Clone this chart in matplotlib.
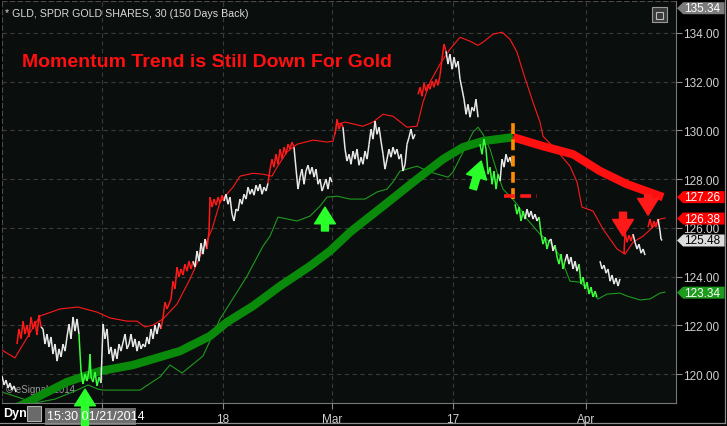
import matplotlib
matplotlib.use("Agg")
import matplotlib.pyplot as plt
import numpy as np
from matplotlib.collections import LineCollection
from matplotlib.lines import Line2D
from matplotlib.patches import Polygon, Rectangle

plt.rcParams["font.family"] = ["Liberation Sans", "DejaVu Sans"]

# x unit: trading days since the left edge of the chart (15:30, 01/21/2014)
START_OFFSET = 0.74
X_MAX = 55.7
Y_MIN, Y_MAX = 118.81, 135.31

session_index = [9, 19, 28, 38, 49]          # Feb 3, Feb 18, Mar 3, Mar 17, Apr 1
session_labels = ["", "18", "Mar", "17", "Apr"]
price_ticks = [120, 122, 124, 126, 128, 130, 132, 134]

# 30-minute GLD price path, with colour runs
price_day = [
    0.00, 0.17, 0.33, 0.50, 0.66, 0.83, 0.99, 1.16,
    1.24, 1.40, 1.57, 1.74, 1.90, 2.07, 2.23, 2.40, 2.56, 2.73, 2.89, 3.06, 3.22,
    3.39, 3.55, 3.72, 3.88, 4.05, 4.21, 4.38, 4.55, 4.71, 4.88, 5.04, 5.21, 5.37, 5.54, 5.70, 5.87, 6.03, 6.20, 6.36,
    6.53, 6.69, 6.86, 7.02, 7.19, 7.27, 7.36, 7.52, 7.69, 7.85, 8.02, 8.18,
    8.35, 8.51, 8.68, 8.84, 9.01, 9.17, 9.34, 9.50, 9.67, 9.83, 10.17, 10.33, 10.50, 10.66, 10.83,
    10.99, 11.16, 11.32, 11.49, 11.65, 11.82, 11.98, 12.15, 12.31, 12.48, 12.64, 12.81, 12.98, 13.14,
    13.31, 13.47, 13.64, 13.80, 13.97, 14.13, 14.30, 14.46, 14.63, 14.79, 14.96, 15.12, 15.29, 15.45, 15.62, 15.79,
    15.95, 16.12, 16.28, 16.45, 16.61, 16.78, 16.94,
    17.11, 17.19, 17.36, 17.52, 17.69, 17.85, 18.02, 18.18, 18.35,
    18.51, 18.68, 18.84, 19.01, 19.17, 19.34, 19.50, 19.67, 19.83, 20.00, 20.17, 20.33, 20.50, 20.66, 20.83,
    20.99, 21.16, 21.32, 21.49, 21.65, 21.82, 21.98,
    22.15, 22.31, 22.48, 22.64, 22.81, 22.98, 23.14, 23.31, 23.47, 23.64, 23.80, 23.97, 24.13,
    24.30, 24.46, 24.63, 24.79, 24.96, 25.12, 25.29, 25.45, 25.62, 25.79, 25.95, 26.12, 26.28, 26.45, 26.61,
    26.78, 26.94, 27.11, 27.27,
    27.52, 27.69, 27.85, 28.02, 28.18,
    28.35, 28.51, 28.68, 28.84, 29.01, 29.17, 29.34, 29.50, 29.67, 29.83, 30.00, 30.17, 30.33, 30.50, 30.66,
    30.83, 30.99, 31.16, 31.32, 31.49, 31.65, 31.82, 31.98, 32.15, 32.31, 32.48, 32.64, 32.81, 32.98, 33.14,
    33.31, 33.47, 33.64, 33.80, 33.97, 34.13,
    34.38, 34.55, 34.71, 34.88, 35.04, 35.21, 35.37, 35.54, 35.70, 35.87, 36.03, 36.20, 36.36, 36.53, 36.69,
    36.86, 37.02, 37.19, 37.36, 37.52, 37.69, 37.85, 38.02, 38.18, 38.35, 38.51, 38.68, 38.84, 39.01, 39.17, 39.34,
    39.50, 39.67, 39.83, 40.00, 40.17, 40.33, 40.50, 40.66, 40.83, 40.99, 41.16,
    41.32, 41.49, 41.65, 41.82, 41.98, 42.15,
    42.40, 42.56, 42.73, 42.89, 43.06, 43.22,
    43.39, 43.55, 43.72, 43.88, 44.05, 44.21, 44.38,
    44.55, 44.71, 44.88, 45.04, 45.21,
    45.37, 45.54, 45.70,
    45.87, 46.03, 46.20, 46.36, 46.53,
    46.69, 46.86, 47.02, 47.19, 47.36, 47.52, 47.69,
    47.85, 48.02, 48.18, 48.35, 48.51, 48.68, 48.84, 49.01, 49.17,
    49.42, 49.59, 49.75, 49.92, 50.08, 50.25, 50.41, 50.58, 50.74, 50.91, 51.07,
    51.40, 51.49, 51.65, 51.82, 51.98, 52.15,
    52.31, 52.48, 52.64, 52.81, 52.98, 53.14,
    53.39, 53.55, 53.72, 53.88, 54.05, 54.21,
    54.38, 54.46, 54.55,
]
price_val = [
    119.92, 119.55, 119.75, 119.43, 119.63, 119.34, 119.51, 119.26,
    121.23, 121.85, 121.44, 122.17, 121.64, 122.01, 121.52, 122.34, 121.85, 122.17, 121.60, 122.42, 121.93,
    121.85, 121.23, 121.64, 121.11, 121.52, 120.82, 121.23, 120.53, 121.03, 120.70, 121.23, 120.94, 121.52, 122.05,
    121.44, 122.34, 121.76, 122.26, 121.64,
    120.12, 119.59, 120.00, 119.71, 120.12, 120.82, 119.88, 119.67, 120.08, 119.51, 119.88, 119.63,
    122.05, 121.44, 121.85, 120.82, 121.11, 120.53, 121.03, 120.62, 121.23, 120.94, 121.64, 121.03, 121.23, 121.64,
    121.11, 121.44, 120.94, 121.35, 121.03, 121.23, 121.11, 121.52, 121.23, 121.85, 121.44, 122.01, 121.64, 122.09,
    121.85,
    122.34, 122.95, 122.67, 122.87, 123.08, 123.81, 123.49, 124.39, 123.98, 124.31, 124.06, 124.51, 124.22, 124.63,
    124.31, 124.63,
    124.39, 125.05, 124.63, 125.37, 124.92, 125.54, 125.13,
    125.87, 127.26, 126.85, 127.18, 126.93, 127.26, 127.01, 127.34, 127.10,
    127.38, 126.97, 127.26, 126.56, 126.28, 126.77, 126.69, 127.18, 126.97, 127.38, 127.18, 127.67, 127.38, 127.59,
    127.34, 127.75, 127.51, 127.79, 127.38, 127.67, 127.51, 127.83,
    128.41, 128.82, 128.49, 129.02, 128.61, 129.23, 128.82, 129.31, 129.02, 129.43, 129.23, 129.52, 129.31,
    128.41, 127.59, 128.08, 128.41, 127.79, 128.33, 128.57, 128.20, 128.49, 128.08, 128.41, 127.79, 128.00, 127.51,
    127.75, 128.00, 127.59, 128.08, 127.88,
    129.84, 130.46, 130.05, 130.30, 130.13,
    129.23, 128.74, 129.02, 128.61, 129.15, 128.82, 129.23, 128.57, 128.90, 128.61, 129.15, 128.82, 129.43, 130.05,
    129.64, 130.38, 129.84, 130.13, 129.56, 129.02, 128.41, 128.82, 129.23, 128.90, 129.31, 129.02, 129.23, 128.82,
    129.02, 128.33, 128.61, 129.43, 129.72, 130.05, 129.64, 129.84,
    131.48, 131.77, 131.40, 131.94, 131.61, 131.89, 131.69, 132.02, 131.77, 132.10, 131.85, 132.26, 132.92, 133.54,
    133.25,
    132.72, 133.13, 132.51, 133.00, 132.59, 132.84, 132.10, 131.69, 131.28, 130.66, 131.07, 130.54, 130.95, 130.79,
    131.28, 130.54,
    129.43, 129.02, 129.64, 129.23, 128.20, 128.49, 127.79, 128.33, 127.59, 128.20, 127.92,
    128.82, 128.49, 129.02, 128.70, 128.90, 128.57,
    126.97, 126.56, 126.85, 126.28, 126.69, 126.36,
    126.77, 126.44, 126.69, 126.36, 126.56, 126.28, 126.44,
    125.74, 125.33, 125.62, 125.13, 125.46,
    125.54, 125.05, 125.29,
    124.80, 124.51, 124.92, 124.31, 124.63,
    124.92, 124.51, 124.80, 124.31, 124.63, 124.22, 124.51,
    123.69, 123.98, 123.49, 123.77, 123.28, 123.57, 123.16, 123.40, 123.16,
    124.63, 124.31, 124.47, 124.14, 124.31, 123.81, 124.06, 123.69, 123.94, 123.61, 123.90,
    124.92, 125.82, 125.41, 125.70, 125.46, 125.74,
    125.41, 125.13, 125.33, 124.96, 125.13, 124.88,
    126.03, 126.36, 125.99, 126.28, 126.03, 126.36,
    125.87, 125.54, 125.48,
]
price_runs = [("w", 8), ("r", 13), ("w", 19), ("g", 12), ("w", 29), ("r", 16), ("w", 7), ("r", 9),
              ("w", 22), ("r", 13), ("w", 19), ("r", 5), ("w", 36), ("r", 15), ("w", 16), ("g", 11),
              ("w", 6), ("g", 6), ("w", 7), ("g", 5), ("w", 3), ("g", 5), ("w", 7), ("g", 9),
              ("w", 11), ("r", 6), ("w", 6), ("r", 6), ("w", 3)]
# last bar before an overnight gap (the path is not joined across these)
gap_after = [1.16, 27.27, 34.13, 39.34, 42.15, 49.17, 51.07, 53.14]

upper_day = [0.00, 1.07, 3.14, 4.79, 6.28, 7.85, 8.93, 10.33, 11.16, 11.82, 12.48, 13.31, 14.46, 15.54, 17.36,
             18.02, 19.09, 19.67, 20.74, 21.57, 22.31, 22.73, 23.55, 24.38, 25.70, 26.86, 27.36, 27.69, 28.35,
             29.83, 30.66, 31.49, 32.31, 33.47, 34.30, 34.79, 35.37, 36.20, 37.02, 37.85, 38.68, 39.34, 39.75,
             40.58, 41.32, 41.98, 42.56, 43.06, 43.88, 44.46, 44.71, 45.95, 46.94, 47.52, 47.93, 48.84, 49.67,
             50.83, 51.49, 52.15, 52.98, 53.80, 54.38, 54.79]
upper_val = [120.98, 120.66, 122.38, 122.67, 122.75, 122.54, 122.30, 122.17, 122.17, 121.93, 122.01, 122.26,
             122.87, 123.90, 125.95, 127.06, 127.67, 128.12, 128.24, 128.20, 128.12, 128.49, 129.11, 129.43,
             129.60, 129.52, 129.56, 130.25, 130.34, 130.17, 130.34, 130.66, 130.58, 130.13, 130.17, 131.15,
             131.98, 132.72, 133.33, 133.82, 133.66, 133.49, 133.62, 133.95, 134.03, 133.74, 133.21, 132.39,
             131.16, 130.34, 129.76, 129.11, 128.53, 127.88, 126.85, 126.69, 125.95, 125.13, 124.92, 125.41,
             125.66, 126.03, 126.36, 126.40]

lower_day = [0.00, 1.49, 2.73, 4.38, 6.03, 7.11, 7.93, 8.35, 11.40, 13.06, 13.88, 14.88, 16.61, 18.02, 19.42,
             20.25, 21.57, 22.15, 22.81, 24.38, 25.45, 26.28, 26.86, 27.69, 28.76, 30.00, 30.99, 31.82, 32.31,
             32.89, 34.30, 35.37, 36.86, 37.27, 38.10, 38.93, 39.34, 39.75, 40.33, 40.91, 41.40, 41.98, 42.56,
             43.39, 44.46, 45.29, 46.12, 46.94, 47.77, 48.60, 49.26, 50.00, 51.07, 51.65, 52.73, 53.55, 54.38,
             54.79]
lower_val = [119.26, 119.02, 118.81, 118.97, 119.30, 119.55, 119.38, 119.34, 119.34, 119.88, 120.37, 120.04,
             120.74, 122.26, 123.36, 124.02, 125.25, 125.66, 126.44, 126.28, 126.48, 126.89, 127.26, 127.30,
             127.18, 127.18, 127.47, 127.59, 127.88, 128.33, 128.53, 128.29, 128.08, 128.29, 129.11, 129.93,
             130.13, 129.84, 129.23, 128.29, 127.59, 127.30, 126.97, 126.36, 125.74, 125.41, 124.84, 123.81,
             123.77, 123.40, 123.08, 123.28, 123.32, 123.20, 123.04, 123.08, 123.32, 123.36]

ma_up_day = [0.00, 1.49, 5.37, 8.10, 10.83, 13.88, 14.71, 17.19, 18.60, 20.74, 22.98, 25.45, 27.11, 28.76,
             29.59, 31.49, 34.30, 36.45, 38.10, 39.75, 42.23]
ma_up_val = [118.48, 118.69, 119.67, 120.12, 120.37, 120.82, 120.94, 121.56, 122.13, 122.79, 123.61, 124.43,
             125.05, 125.82, 126.15, 126.89, 128.00, 128.82, 129.31, 129.56, 129.72]
ma_down_day = [42.23, 44.71, 47.19, 49.42, 51.65, 54.63]
ma_down_val = [129.72, 129.35, 129.02, 128.33, 127.79, 127.26]

trigger_day = 42.23
trigger_top, trigger_bottom = 130.38, 127.18
support_level = 127.30
support_from, support_to = 41.49, 44.21

# arrows: (tail day, tail price, head day, head price)
green_arrows = [(6.86, 117.70, 6.86, 119.38), (26.69, 125.87, 26.69, 126.85), (38.93, 127.59, 39.60, 128.74)]
red_arrows = [(51.32, 126.64, 51.32, 125.66), (53.39, 127.38, 53.39, 126.52)]

tag_values = [135.34, 127.26, 126.38, 125.48, 123.34]
tag_fill = ["#7c7c7c", "#ff0000", "#ff0000", "#dcdcdc", "#1e9a1e"]
tag_text = ["white", "white", "white", "black", "white"]

W, H = 727, 427
fig = plt.figure(figsize=(W / 100, H / 100), dpi=100, facecolor="black")
ax = fig.add_axes([2 / W, (H - 404) / H, 674 / W, 402 / H])
ax.set_zorder(3)
ax.set_facecolor("#0a0e0c")
ax.set_xlim(0, X_MAX)
ax.set_ylim(Y_MIN, Y_MAX)

tick_pos = np.array(session_index) - START_OFFSET
ax.set_xticks(tick_pos)
ax.set_xticklabels(session_labels)
ax.set_yticks(price_ticks)
ax.set_yticklabels([f"{v:.2f}" for v in price_ticks])
ax.yaxis.tick_right()
ax.tick_params(axis="both", colors="#8a8a8a", labelcolor="#d0d0d0", labelsize=8.5, length=4, width=0.8)
ax.tick_params(axis="y", pad=1)
ax.tick_params(axis="x", pad=3)
ax.grid(True, color="#3a3a3a", linestyle=(0, (4, 3)), linewidth=0.8)
for side in ("left", "top"):
    ax.spines[side].set_color("#4a4a4a")
    ax.spines[side].set_linestyle((0, (4, 3)))
for side in ("right", "bottom"):
    ax.spines[side].set_color("#777777")

ax.plot(upper_day, upper_val, color="#ff1a1a", lw=0.8, zorder=2)
ax.plot(lower_day, lower_val, color="#1f9a1f", lw=0.8, zorder=2)
ax.plot(ma_up_day, ma_up_val, color="#0a8a0a", lw=6, solid_capstyle="butt", zorder=3)
ax.plot(ma_down_day, ma_down_val, color="#ff1010", lw=6, solid_capstyle="butt", zorder=3)

bar_colors = {"w": "#e8e8e8", "r": "#ff1a1a", "g": "#3cff3c"}
tags = "".join(c * n for c, n in price_runs)
pts = np.column_stack([price_day, price_val])
segs = np.stack([pts[:-1], pts[1:]], axis=1)
keep = ~np.isin(np.round(pts[:-1, 0], 2), gap_after)
seg_cols = np.array([bar_colors[t] for t in tags[1:len(pts)]])
ax.add_collection(LineCollection(segs[keep], colors=list(seg_cols[keep]), linewidths=1.1, zorder=4))

ax.plot([trigger_day, trigger_day], [trigger_bottom, trigger_top], color="#ff8c00", lw=2.6,
        linestyle=(0, (3, 1.5)), zorder=5)
ax.plot([support_from, support_to], [support_level, support_level], color="#ff1a1a", lw=2.6,
        linestyle=(0, (3, 1.5)), zorder=5)

for arrows, col in ((green_arrows, "#2aff2a"), (red_arrows, "#ff1a1a")):
    for x0, y0, x1, y1 in arrows:
        ax.annotate("", xy=(x1, y1), xytext=(x0, y0), annotation_clip=False, zorder=6,
                    arrowprops=dict(arrowstyle="simple,head_width=1.5,head_length=1.2,tail_width=0.5",
                                    color=col, shrinkA=0, shrinkB=0, clip_on=False))

# price tags on the right axis
half = 6 / (402 / (Y_MAX - Y_MIN))
for v, fc, tc in zip(tag_values, tag_fill, tag_text):
    y = min(v, Y_MAX - half - 0.05)
    poly = Polygon([(1.0015, y), (1.0105, y + half), (1.072, y + half), (1.072, y - half), (1.0105, y - half)],
                   closed=True, transform=ax.get_yaxis_transform(), facecolor=fc, edgecolor="none",
                   clip_on=False, zorder=7)
    ax.add_patch(poly)
    ax.text(1.012, y, f"{v:.2f}", transform=ax.get_yaxis_transform(), color=tc, fontsize=8.5,
            va="center", ha="left", zorder=8, clip_on=False)

# titles and chart furniture (texts inside the plot belong to the axes so they sit on its background)
ax.text(5 / W, 1 - 14 / H, "* GLD, SPDR GOLD SHARES, 30 (150 Days Back)", transform=fig.transFigure,
        color="#d8d8d8", fontsize=7.7, va="center", ha="left", zorder=8)
ax.text(22 / W, 1 - 63 / H, "Momentum Trend is Still Down For Gold", transform=fig.transFigure,
        color="#ff1010", fontsize=14, fontweight="bold", va="center", ha="left", zorder=8)
ax.text(6 / W, 1 - 390 / H, "\u00a9 eSignal, 2014", transform=fig.transFigure, color="#9a9a9a",
        fontsize=7, va="center", ha="left", zorder=1)
fig.text(3 / W, 1 - 414 / H, "Dyn", color="white", fontsize=9, fontweight="bold", va="center", ha="left")
fig.add_artist(Rectangle((27 / W, 1 - 422 / H), 14 / W, 15 / H, transform=fig.transFigure,
                         facecolor="#6a6a6a", edgecolor="#b0b0b0", lw=0.8))
fig.add_artist(Rectangle((45 / W, 1 - 426 / H), 91 / W, 17 / H, transform=fig.transFigure,
                         facecolor="#6e6e6e", edgecolor="none"))
fig.text(47 / W, 1 - 417 / H, "15:30 01/21/2014", color="white", fontsize=9, va="center", ha="left")
ax.add_artist(Rectangle((652 / W, 1 - 23 / H), 15 / W, 15 / H, transform=fig.transFigure,
                        facecolor="#3a3a3a", edgecolor="#9a9a9a", lw=0.8, zorder=8))
ax.add_artist(Rectangle((656 / W, 1 - 20 / H), 7 / W, 7 / H, transform=fig.transFigure,
                        facecolor="none", edgecolor="#bdbdbd", lw=0.8, zorder=9))
fig.add_artist(Line2D([724.5 / W, 724.5 / W], [1 - 424 / H, 1], transform=fig.transFigure,
                      color="#8c8c8c", lw=0.9))
fig.add_artist(Line2D([0, 724.5 / W], [1 - 424 / H, 1 - 424 / H], transform=fig.transFigure,
                      color="#8c8c8c", lw=0.9))

fig.savefig("out.png", dpi=100, facecolor="black")
